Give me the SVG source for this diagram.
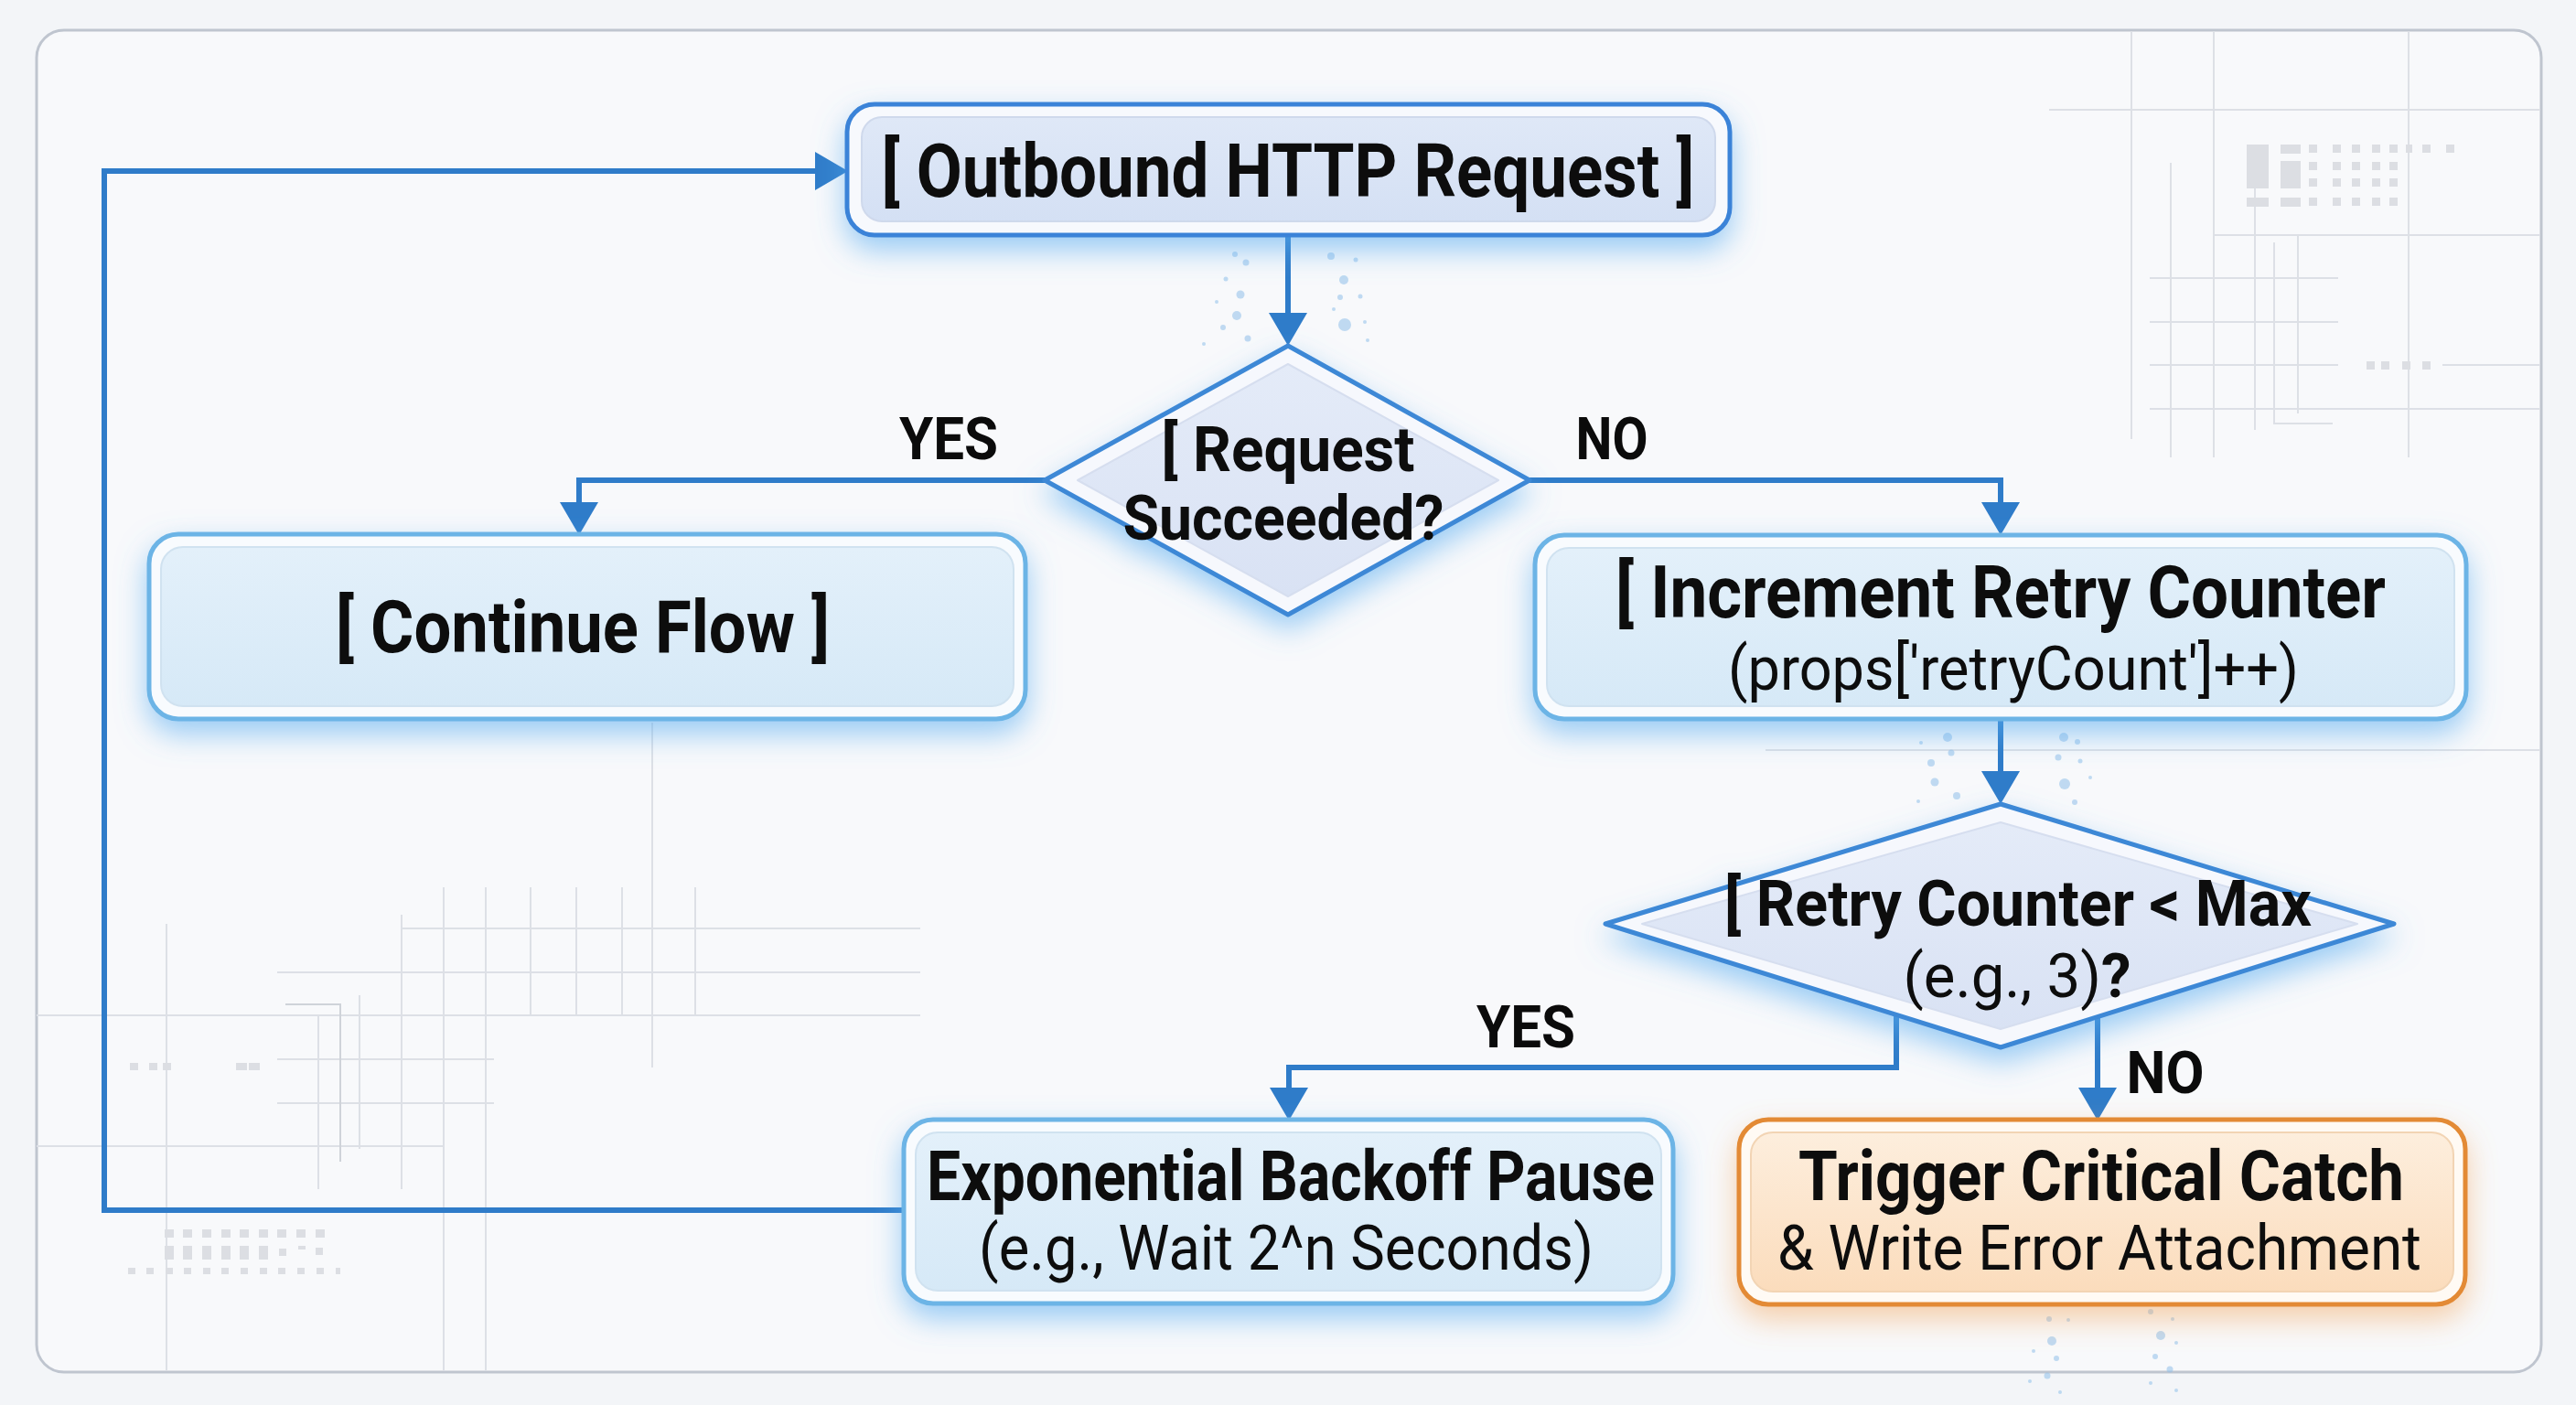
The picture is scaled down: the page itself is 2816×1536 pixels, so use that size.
<svg xmlns="http://www.w3.org/2000/svg" width="2816" height="1536" viewBox="0 0 2816 1536">
<defs>
<style>
.t{font-family:Roboto,"Liberation Sans",Arial,sans-serif;fill:#0b0b0b;text-anchor:middle}
.b{font-weight:700}
.r{font-weight:400}
.grid{stroke:#dde0e6;stroke-width:2;fill:none}
.blk{fill:#dcdee3}
.con{fill:none;stroke:#2f7cc9;stroke-width:6;stroke-linejoin:miter}
.pt{fill:#8fbfe9;opacity:0.55}
</style>
<linearGradient id="gBlue" x1="0" y1="0" x2="0" y2="1">
<stop offset="0" stop-color="#e3f0fa"/><stop offset="1" stop-color="#d6e9f7"/>
</linearGradient>
<linearGradient id="gTop" x1="0" y1="0" x2="0" y2="1">
<stop offset="0" stop-color="#dfe8f7"/><stop offset="1" stop-color="#d4e0f4"/>
</linearGradient>
<linearGradient id="gDia" x1="0" y1="0" x2="0" y2="1">
<stop offset="0" stop-color="#e4ebf8"/><stop offset="1" stop-color="#d9e2f4"/>
</linearGradient>
<linearGradient id="gOr" x1="0" y1="0" x2="0" y2="1">
<stop offset="0" stop-color="#fdeedd"/><stop offset="1" stop-color="#fbdcbc"/>
</linearGradient>
<filter id="glow" x="-20%" y="-40%" width="140%" height="200%">
<feGaussianBlur in="SourceAlpha" stdDeviation="16" result="b"/>
<feOffset in="b" dy="14" result="o"/>
<feFlood flood-color="#58acf0" flood-opacity="0.6"/>
<feComposite in2="o" operator="in"/>
<feMerge><feMergeNode/><feMergeNode in="SourceGraphic"/></feMerge>
</filter>
<filter id="glowO" x="-20%" y="-40%" width="140%" height="200%">
<feGaussianBlur in="SourceAlpha" stdDeviation="16" result="b"/>
<feOffset in="b" dy="14" result="o"/>
<feFlood flood-color="#f2a45a" flood-opacity="0.5"/>
<feComposite in2="o" operator="in"/>
<feMerge><feMergeNode/><feMergeNode in="SourceGraphic"/></feMerge>
</filter>
<marker id="ah" markerUnits="userSpaceOnUse" markerWidth="40" markerHeight="44" refX="14" refY="22" orient="auto">
<path d="M0,1 L36,22 L0,43 Z" fill="#2f7cc9"/>
</marker>
</defs>

<rect x="0" y="0" width="2816" height="1536" fill="#f3f5f8"/>
<rect x="40" y="33" width="2738" height="1467" rx="30" fill="#f8f9fb" stroke="#bfc5cf" stroke-width="3"/>

<g id="background-grid">
<path class="grid" d="M2420,34 V500 M2633,34 V500 M2373,178 V500 M2465,158 V470 M2512,258 V452 M2420,257 H2776 M2350,304 H2556 M2350,352 H2556 M2350,399 H2556 M2670,399 H2776 M2350,447 H2776 M2486,265 V463 H2550"/>
<path class="grid" d="M2330,34 V480 M2240,120 H2776 M1930,820 H2776 M2100,760 H2330"/>
<rect class="blk" x="2456" y="158" width="24" height="48"/><rect class="blk" x="2493" y="158" width="22" height="10"/><rect class="blk" x="2493" y="176" width="22" height="30"/>
<rect class="blk" x="2456" y="216" width="24" height="10"/><rect class="blk" x="2493" y="216" width="22" height="10"/>
<g class="blk">
<rect x="2524" y="158" width="9" height="9"/><rect x="2550" y="158" width="9" height="9"/><rect x="2571" y="158" width="9" height="9"/><rect x="2593" y="158" width="9" height="9"/><rect x="2612" y="158" width="9" height="9"/><rect x="2630" y="158" width="7" height="9"/><rect x="2648" y="158" width="9" height="9"/><rect x="2674" y="158" width="9" height="9"/>
<rect x="2524" y="177" width="9" height="9"/><rect x="2550" y="177" width="9" height="9"/><rect x="2571" y="177" width="9" height="9"/><rect x="2593" y="177" width="9" height="9"/><rect x="2612" y="177" width="9" height="9"/>
<rect x="2524" y="195" width="9" height="9"/><rect x="2550" y="195" width="9" height="9"/><rect x="2571" y="195" width="9" height="9"/><rect x="2593" y="195" width="9" height="9"/><rect x="2612" y="195" width="9" height="9"/>
<rect x="2524" y="216" width="9" height="9"/><rect x="2550" y="216" width="9" height="9"/><rect x="2571" y="216" width="9" height="9"/><rect x="2593" y="216" width="9" height="9"/><rect x="2612" y="216" width="9" height="9"/>
<rect x="2587" y="395" width="9" height="9"/><rect x="2603" y="395" width="9" height="9"/><rect x="2626" y="395" width="9" height="9"/><rect x="2648" y="395" width="9" height="9"/>
</g>
<path class="grid" d="M182,1010 V1498 M348,1110 V1300 M393,1088 V1256 M439,1000 V1300 M485,970 V1498 M531,970 V1498 M713,790 V1167 M40,1110 H1006 M40,1253 H485 M303,1063 H1006 M303,1158 H540 M303,1206 H540 M440,1015 H1006 M580,970 V1110 M630,970 V1110 M680,970 V1110 M760,970 V1110"/>
<path d="M312,1098 H372 V1270" fill="none" stroke="#cfd3d9" stroke-width="2"/>
<g class="blk">
<rect x="142" y="1162" width="9" height="8"/><rect x="163" y="1162" width="9" height="8"/><rect x="178" y="1162" width="9" height="8"/><rect x="258" y="1162" width="12" height="8"/><rect x="272" y="1162" width="12" height="8"/>
<rect x="180" y="1344" width="10" height="9"/><rect x="200" y="1344" width="10" height="9"/><rect x="221" y="1344" width="10" height="9"/><rect x="242" y="1344" width="10" height="9"/><rect x="262" y="1344" width="10" height="9"/><rect x="283" y="1344" width="10" height="9"/><rect x="303" y="1344" width="10" height="9"/><rect x="324" y="1344" width="10" height="9"/><rect x="345" y="1344" width="10" height="9"/>
<rect x="180" y="1362" width="10" height="15"/><rect x="200" y="1362" width="10" height="15"/><rect x="221" y="1362" width="10" height="15"/><rect x="242" y="1362" width="10" height="15"/><rect x="262" y="1362" width="10" height="15"/><rect x="283" y="1362" width="10" height="15"/><rect x="305" y="1365" width="8" height="8"/><rect x="326" y="1362" width="8" height="4"/><rect x="345" y="1364" width="8" height="8"/>
<rect x="140" y="1386" width="8" height="7"/><rect x="160" y="1386" width="8" height="7"/><rect x="181" y="1386" width="8" height="7"/><rect x="201" y="1386" width="8" height="7"/><rect x="222" y="1386" width="8" height="7"/><rect x="242" y="1386" width="8" height="7"/><rect x="263" y="1386" width="8" height="7"/><rect x="284" y="1386" width="8" height="7"/><rect x="304" y="1386" width="8" height="7"/><rect x="325" y="1386" width="8" height="7"/><rect x="346" y="1386" width="8" height="7"/><rect x="367" y="1386" width="5" height="7"/>
</g>
</g>

<g id="particles">
<circle class="pt" cx="1350" cy="278" r="3"/><circle class="pt" cx="1362" cy="287" r="3.5"/><circle class="pt" cx="1340" cy="305" r="2.5"/><circle class="pt" cx="1352" cy="345" r="5"/><circle class="pt" cx="1337" cy="358" r="3"/><circle class="pt" cx="1364" cy="370" r="3.5"/><circle class="pt" cx="1330" cy="330" r="2"/><circle class="pt" cx="1356" cy="322" r="4.5"/><circle class="pt" cx="1316" cy="376" r="2"/>
<circle class="pt" cx="1455" cy="280" r="4"/><circle class="pt" cx="1482" cy="284" r="2.5"/><circle class="pt" cx="1469" cy="306" r="5"/><circle class="pt" cx="1465" cy="325" r="3"/><circle class="pt" cx="1487" cy="324" r="2.5"/><circle class="pt" cx="1470" cy="355" r="7"/><circle class="pt" cx="1458" cy="338" r="2"/><circle class="pt" cx="1492" cy="352" r="2"/><circle class="pt" cx="1495" cy="372" r="2"/>
<circle class="pt" cx="2129" cy="806" r="5"/><circle class="pt" cx="2133" cy="823" r="3.5"/><circle class="pt" cx="2111" cy="834" r="4"/><circle class="pt" cx="2115" cy="855" r="4.5"/><circle class="pt" cx="2139" cy="870" r="4"/><circle class="pt" cx="2097" cy="876" r="2"/><circle class="pt" cx="2100" cy="812" r="2"/>
<circle class="pt" cx="2256" cy="806" r="5"/><circle class="pt" cx="2271" cy="811" r="3"/><circle class="pt" cx="2250" cy="828" r="3.5"/><circle class="pt" cx="2274" cy="832" r="2.5"/><circle class="pt" cx="2257" cy="857" r="6"/><circle class="pt" cx="2285" cy="850" r="2"/><circle class="pt" cx="2268" cy="877" r="3"/>
<circle class="pt" cx="2240" cy="1442" r="3"/><circle class="pt" cx="2261" cy="1443" r="2"/><circle class="pt" cx="2243" cy="1466" r="5"/><circle class="pt" cx="2223" cy="1477" r="2"/><circle class="pt" cx="2248" cy="1485" r="3"/><circle class="pt" cx="2238" cy="1504" r="3.5"/><circle class="pt" cx="2219" cy="1510" r="2"/><circle class="pt" cx="2252" cy="1522" r="2"/>
<circle class="pt" cx="2351" cy="1434" r="3"/><circle class="pt" cx="2375" cy="1442" r="2"/><circle class="pt" cx="2362" cy="1460" r="5"/><circle class="pt" cx="2379" cy="1468" r="2"/><circle class="pt" cx="2356" cy="1483" r="3"/><circle class="pt" cx="2372" cy="1497" r="3.5"/><circle class="pt" cx="2351" cy="1512" r="2"/><circle class="pt" cx="2379" cy="1520" r="2"/>
</g>

<g id="connectors">
<path class="con" d="M1408,257 V356" marker-end="url(#ah)"/>
<path class="con" d="M1142,525 H633 V563" marker-end="url(#ah)"/>
<path class="con" d="M1672,525 H2187 V563" marker-end="url(#ah)"/>
<path class="con" d="M2187,787 V857" marker-end="url(#ah)"/>
<path class="con" d="M2073,1109 V1167 H1409 V1203" marker-end="url(#ah)"/>
<path class="con" d="M2293,1112 V1203" marker-end="url(#ah)"/>
<path class="con" d="M990,1323 H114 V187 H905" marker-end="url(#ah)"/>
<text class="t b" x="1037" y="502" font-size="64" textLength="108" lengthAdjust="spacingAndGlyphs">YES</text>
<text class="t b" x="1762" y="502" font-size="64" textLength="79" lengthAdjust="spacingAndGlyphs">NO</text>
<text class="t b" x="1668" y="1145" font-size="64" textLength="108" lengthAdjust="spacingAndGlyphs">YES</text>
<text class="t b" x="2367" y="1195" font-size="64" textLength="85" lengthAdjust="spacingAndGlyphs">NO</text>
</g>

<g id="node-outbound" filter="url(#glow)">
<rect x="926" y="114" width="965" height="143" rx="30" fill="#f7f9fd" stroke="#3b83d8" stroke-width="5"/>
<rect x="942" y="128" width="933" height="114" rx="22" fill="url(#gTop)" stroke="#cfd9ec" stroke-width="2"/>
<text class="t b" x="1408" y="215" font-size="82" textLength="889" lengthAdjust="spacingAndGlyphs">[ Outbound HTTP Request ]</text>
</g>

<g id="node-succeeded" filter="url(#glow)">
<polygon points="1408,378 1672,525 1408,672 1142,525" fill="#f6f8fd" stroke="#3d88d6" stroke-width="5" stroke-linejoin="round"/>
<polygon points="1408,398 1638,525 1408,652 1178,525" fill="url(#gDia)" stroke="#d6deef" stroke-width="2" stroke-linejoin="round"/>
<text class="t b" x="1408" y="515" font-size="68" textLength="277" lengthAdjust="spacingAndGlyphs">[ Request</text>
<text class="t b" x="1403" y="590" font-size="68" textLength="351" lengthAdjust="spacingAndGlyphs">Succeeded?</text>
</g>

<g id="node-continue" filter="url(#glow)">
<rect x="163" y="584" width="958" height="202" rx="32" fill="#f8fbfe" stroke="#6cb4e6" stroke-width="5"/>
<rect x="176" y="598" width="932" height="174" rx="24" fill="url(#gBlue)" stroke="#d0e2f0" stroke-width="2"/>
<text class="t b" x="637" y="713" font-size="80" textLength="540" lengthAdjust="spacingAndGlyphs">[ Continue Flow ]</text>
</g>

<g id="node-increment" filter="url(#glow)">
<rect x="1678" y="585" width="1018" height="201" rx="32" fill="#f8fbfe" stroke="#6cb4e6" stroke-width="5"/>
<rect x="1691" y="599" width="992" height="173" rx="24" fill="url(#gBlue)" stroke="#d0e2f0" stroke-width="2"/>
<text class="t b" x="2187" y="675" font-size="80" textLength="842" lengthAdjust="spacingAndGlyphs">[ Increment Retry Counter</text>
<text class="t r" x="2201" y="754" font-size="66" textLength="624" lengthAdjust="spacingAndGlyphs">(props['retryCount']++)</text>
</g>

<g id="node-maxcheck" filter="url(#glow)">
<polygon points="2187,879 2617,1010 2187,1145 1755,1010" fill="#f6f8fd" stroke="#3d88d6" stroke-width="5" stroke-linejoin="round"/>
<polygon points="2187,899 2577,1010 2187,1125 1795,1010" fill="url(#gDia)" stroke="#d6deef" stroke-width="2" stroke-linejoin="round"/>
<text class="t b" x="2206" y="1012" font-size="70" textLength="642" lengthAdjust="spacingAndGlyphs">[ Retry Counter &lt; Max</text>
<text class="t r" x="2205" y="1090" font-size="66" textLength="249" lengthAdjust="spacingAndGlyphs">(e.g., 3)<tspan class="b">?</tspan></text>
</g>

<g id="node-backoff" filter="url(#glow)">
<rect x="988" y="1224" width="841" height="201" rx="32" fill="#f8fbfe" stroke="#6cb4e6" stroke-width="5"/>
<rect x="1001" y="1238" width="815" height="173" rx="24" fill="url(#gBlue)" stroke="#d0e2f0" stroke-width="2"/>
<text class="t b" x="1411" y="1312" font-size="76" textLength="796" lengthAdjust="spacingAndGlyphs">Exponential Backoff Pause</text>
<text class="t r" x="1406" y="1388" font-size="68" textLength="672" lengthAdjust="spacingAndGlyphs">(e.g., Wait 2^n Seconds)</text>
</g>

<g id="node-critical" filter="url(#glowO)">
<rect x="1901" y="1224" width="794" height="202" rx="32" fill="#fffaf4" stroke="#e38a35" stroke-width="5"/>
<rect x="1914" y="1238" width="768" height="174" rx="24" fill="url(#gOr)" stroke="#f2d4b4" stroke-width="2"/>
<text class="t b" x="2297" y="1312" font-size="76" textLength="662" lengthAdjust="spacingAndGlyphs">Trigger Critical Catch</text>
<text class="t r" x="2295" y="1388" font-size="68" textLength="704" lengthAdjust="spacingAndGlyphs">&amp; Write Error Attachment</text>
</g>
</svg>
